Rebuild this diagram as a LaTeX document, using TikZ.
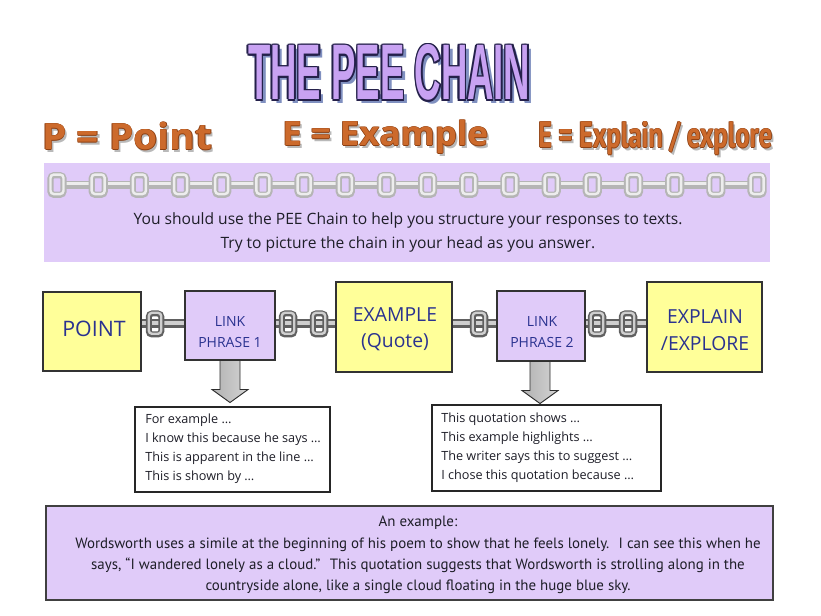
\documentclass[tikz,border=0pt]{standalone}
\usepackage{fontspec}
\setmainfont{Open Sans}
\newfontfamily\narrowf{PT Sans}
\newfontfamily\titlef{Liberation Sans}
\usepackage{graphicx}
\usetikzlibrary{fit,calc}
\definecolor{lav}{HTML}{E0CBF9}
\definecolor{ylw}{HTML}{FFFF99}
\definecolor{boxblue}{HTML}{2A3290}
\definecolor{orng}{HTML}{CC6A2C}
\definecolor{orngdark}{HTML}{8C3F12}
\definecolor{titlefill}{HTML}{C8A2F2}
\definecolor{titleline}{HTML}{24204A}
\definecolor{titleshadow}{HTML}{8090C0}
\definecolor{txt}{HTML}{1E1E28}

% ring: cx, cy, mid width, mid height, ring thickness, dark colour, light colour
\newcommand\ring[7]{%
  \draw[line width=#5*0.75pt, #6, rounded corners=2.5pt] ({#1-#3/2},{#2-#4/2}) rectangle ({#1+#3/2},{#2+#4/2});
  \draw[line width=#5*0.3pt, #7, rounded corners=2.5pt] ({#1-#3/2},{#2-#4/2-0.7}) rectangle ({#1+#3/2},{#2+#4/2-0.7});}
% bar: x1, x2, cy, thickness, dark, light
\newcommand\chainbar[6]{%
  \draw[line width=#4*0.75pt, #5, line cap=round] (#1,#3) -- (#2,#3);
  \draw[line width=#4*0.3pt, #6, line cap=round] (#1,{#3-1}) -- (#2,{#3-1});}

\newcommand\hpt{\resizebox{127.5pt}{20.5pt}{\fontsize{28}{30}\selectfont\bfseries P = Point}}
\newcommand\het{\resizebox{154.5pt}{19pt}{\fontsize{25}{27}\selectfont\bfseries E = Example}}
\newcommand\hxt{\resizebox{175.5pt}{19.5pt}{\narrowf\fontsize{26}{28}\selectfont\bfseries E = Explain / explore}}
\newcommand\ttlt{\resizebox{211.5pt}{41.25pt}{\titlef\bfseries THE PEE CHAIN}}

\newcommand\hdr[4]{%
  \node[anchor=base west, inner sep=0pt, text=gray!55] at ({#2+2.2},{#3+2.2}) {#4};
  \node[anchor=base west, inner sep=0pt, text=orngdark] at ({#2-0.7},{#3}) {#4};
  \node[anchor=base west, inner sep=0pt, text=orngdark] at ({#2+0.7},{#3}) {#4};
  \node[anchor=base west, inner sep=0pt, text=orngdark] at ({#2},{#3-0.7}) {#4};
  \node[anchor=base west, inner sep=0pt, text=orngdark] at ({#2},{#3+0.7}) {#4};
  \node[anchor=base west, inner sep=0pt, text=orng] (#1) at (#2,#3) {#4};}

\begin{document}
\begin{tikzpicture}[x=0.75pt,y=-0.75pt,
  ybox/.style={draw=black!80, line width=0.8pt, fill=ylw, inner sep=0pt},
  lbox/.style={draw=black!80, line width=0.8pt, fill=lav, inner sep=0pt},
  tbox/.style={draw=black!85, line width=0.8pt, fill=white, inner sep=0pt},
  boxtxt/.style={text=boxblue, align=center, inner sep=0pt},
  listtxt/.style={anchor=north west, align=left, inner sep=0pt, text=txt,
     font=\fontsize{9.5}{14.25}\selectfont},
  bandd/.style={color=gray!58},
  bandl/.style={color=gray!14},
  rowd/.style={color=gray!75!black},
  rowl/.style={color=gray!38},
  bigarrow/.style={draw=gray!35!black, line width=0.7pt, left color=gray!60, right color=gray!35}
]
\useasboundingbox[fill=white] (0,0) rectangle (821,616);

% title
\node[anchor=base west, inner sep=0pt, text=titleshadow] at (252,104) {\ttlt};
\foreach \dx/\dy in {-1.6/0,1.6/0,0/-1.6,0/1.6,-1.1/-1.1,1.1/1.1,-1.1/1.1,1.1/-1.1}
  {\node[anchor=base west, inner sep=0pt, text=titleline] at ({248+\dx},{100+\dy}) {\ttlt};}
\node[anchor=base west, inner sep=0pt, text=titlefill] (title) at (248,100) {\ttlt};

% headers
\hdr{hp}{42}{150}{\hpt}
\hdr{he}{282}{146}{\het}
\hdr{hx}{538}{148}{\hxt}

% band
\node[fill=lav, inner sep=0pt, fit={(44,163) (770,262)}] (band) {};
\foreach \k in {0,...,16}{
  \pgfmathsetmacro\xa{57+41.18*\k+9}\pgfmathsetmacro\xb{57+41.18*(\k+1)-9}
  \chainbar{\xa}{\xb}{185}{7.5}{bandd}{bandl}}
\foreach \k in {0,...,17}{
  \pgfmathsetmacro\cx{57+41.18*\k}
  \ring{\cx}{185}{13}{19.5}{6.2}{bandd}{bandl}}
\node[text=txt, align=center, font=\fontsize{11.7}{18}\selectfont] (bandtext) at (408,232)
  {You should use the PEE Chain to help you structure your responses to texts.\\
   Try to picture the chain in your head as you answer.};

% row chains
\chainbar{141}{185}{324}{9}{rowd}{rowl}
\chainbar{275}{336}{324}{9}{rowd}{rowl}
\chainbar{452}{497}{324}{9}{rowd}{rowl}
\chainbar{585}{647}{324}{9}{rowd}{rowl}
\ring{155}{324}{12.5}{21}{6}{rowd}{rowl}
\ring{288}{324}{12.5}{21}{6}{rowd}{rowl}
\ring{319}{324}{12.5}{21}{6}{rowd}{rowl}
\ring{479}{324}{12.5}{21}{6}{rowd}{rowl}
\ring{597}{324}{12.5}{21}{6}{rowd}{rowl}
\ring{628}{324}{12.5}{21}{6}{rowd}{rowl}

% boxes
\node[ybox, fit={(43,292) (141,371)}] (point) {};
\node[boxtxt, font=\fontsize{16}{18}\selectfont] (pointt) at (94,329) {POINT};
\node[lbox, fit={(185,291) (275,360)}] (link1) {};
\node[boxtxt, font=\fontsize{10.5}{15.75}\selectfont] (link1t) at (230,332.5) {LINK\\PHRASE 1};
\node[ybox, fit={(336,282) (452,372)}] (example) {};
\node[boxtxt, font=\fontsize{14.5}{19.5}\selectfont] (examplet) at (395,329) {EXAMPLE\\(Quote)};
\node[lbox, fit={(497,291) (585,361)}] (link2) {};
\node[boxtxt, font=\fontsize{10.5}{15.75}\selectfont] (link2t) at (542,332.5) {LINK\\PHRASE 2};
\node[ybox, fit={(647,282) (762,372)}] (explain) {};
\node[boxtxt, font=\fontsize{14.5}{20}\selectfont] (explaint) at (705,330) {EXPLAIN\\/EXPLORE};

% arrows
\path[bigarrow] ($(link1.south)+(-10,0)$) -- ++(0,29) -- ++(-8,0) -- ($(link1.south)+(0,42)$)
   -- ($(link1.south)+(18,29)$) -- ++(-8,0) -- ($(link1.south)+(10,0)$) -- cycle;
\path[bigarrow] ($(link2.south)+(-11,0)$) -- ++(0,29) -- ++(-8,0) -- ($(link2.south)+(-1,42)$)
   -- ($(link2.south)+(17,29)$) -- ++(-8,0) -- ($(link2.south)+(9,0)$) -- cycle;

% text boxes
\node[tbox, fit={(135,407) (330,492)}] (list1) {};
\node[listtxt] (list1t) at (145,414)
  {For example …\\ I know this because he says …\\ This is apparent in the line …\\ This is shown by …};
\node[tbox, fit={(432,405) (661,491)}] (list2) {};
\node[listtxt] (list2t) at (441,413)
  {This quotation shows …\\ This example highlights …\\ The writer says this to suggest …\\ I chose this quotation because …};

% bottom example
\node[lbox, draw=black!75, fit={(46,506) (773,600)}] (ex) {};
\node[text=txt, align=center, font=\narrowf\fontsize{11.2}{16}\selectfont] (ext) at (418,555)
  {An example:\\
   Wordsworth uses a simile at the beginning of his poem to show that he feels lonely.~ I can see this when he\\
   says, “I wandered lonely as a cloud.”~ This quotation suggests that Wordsworth is strolling along in the\\
   countryside alone, like a single cloud floating in the huge blue sky.};
\end{tikzpicture}
\end{document}
